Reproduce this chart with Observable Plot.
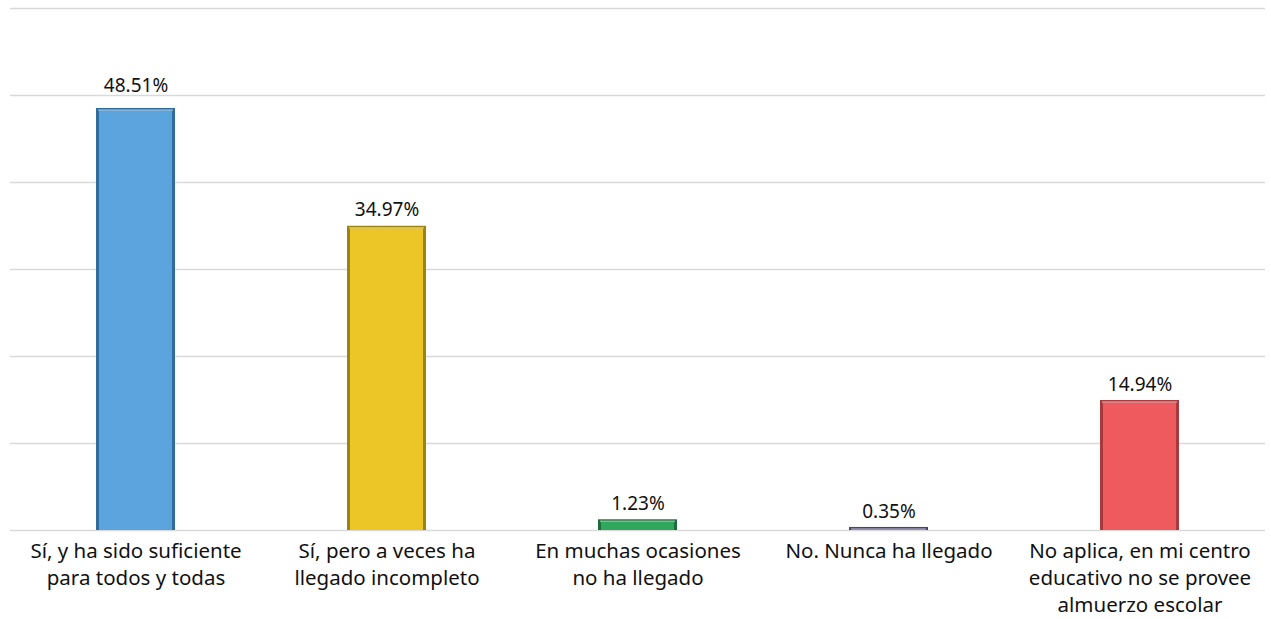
<!DOCTYPE html>
<html>
<head>
<meta charset="utf-8">
<script src="https://cdn.jsdelivr.net/npm/d3@7"></script>
<script src="https://cdn.jsdelivr.net/npm/@observablehq/plot@0.6"></script>
<style>
  html, body { margin: 0; padding: 0; background: #fff; }
  #chart { width: 1271px; height: 619px; }
</style>
</head>
<body>
<div id="chart"></div>
<script>
const categories = [
  "Sí, y ha sido suficiente\npara todos y todas",
  "Sí, pero a veces ha\nllegado incompleto",
  "En muchas ocasiones\nno ha llegado",
  "No. Nunca ha llegado",
  "No aplica, en mi centro\neducativo no se provee\nalmuerzo escolar"
];
const values = [48.51, 34.97, 1.23, 0.35, 14.94];
const colors = ["#5ba4dd", "#ecc526", "#2fa85d", "#7a70aa", "#ee5a5e"];
const darkColors = ["#2f6c9e", "#9c8210", "#1b6e3b", "#4a4270", "#a8393c"];
const gridTicks = [0, 10, 20, 30, 40, 50, 60];

const data = categories.map((c, i) => ({cat: c, value: values[i], color: colors[i], dark: darkColors[i]}));
const label = d => d.value.toFixed(2) + "%";

const chart = Plot.plot({
  width: 1271,
  height: 619,
  marginLeft: 10,
  marginRight: 6,
  marginTop: 8,
  marginBottom: 89,
  style: {fontFamily: "'Noto Sans', sans-serif", background: "#fff", color: "#111"},
  x: {domain: categories, paddingInner: 0.685, paddingOuter: 0.3425, label: null},
  y: {domain: [0, 60], label: null},
  marks: [
    Plot.ruleY(gridTicks, {stroke: "#d9d9d9", strokeWidth: 1.3}),
    Plot.barY(data, {x: "cat", y: "value", fill: "dark"}),
    Plot.barY(data, {x: "cat", y: "value", fill: "color", insetLeft: 3, insetRight: 3, insetTop: 2.5, insetBottom: 0}),
    Plot.tickY(data, {x: "cat", y: "value", stroke: "white", strokeOpacity: 0.45, strokeWidth: 1.5, dy: 1.5, inset: 2}),
    Plot.text(data.slice(0, 1), {x: "cat", y: "value", text: label, dy: -23, fontSize: 19, fill: "#111"}),
    Plot.text(data.slice(1), {x: "cat", y: "value", text: label, dy: -16, fontSize: 19, fill: "#111"}),
    Plot.axisX({tickSize: 0, tickPadding: 9, fontSize: 20.5, lineHeight: 1.3, textAnchor: "middle", fill: "#111"}),
    Plot.axisY({ticks: [], tickSize: 0, label: null})
  ]
});
document.getElementById("chart").append(chart);
</script>
</body>
</html>
